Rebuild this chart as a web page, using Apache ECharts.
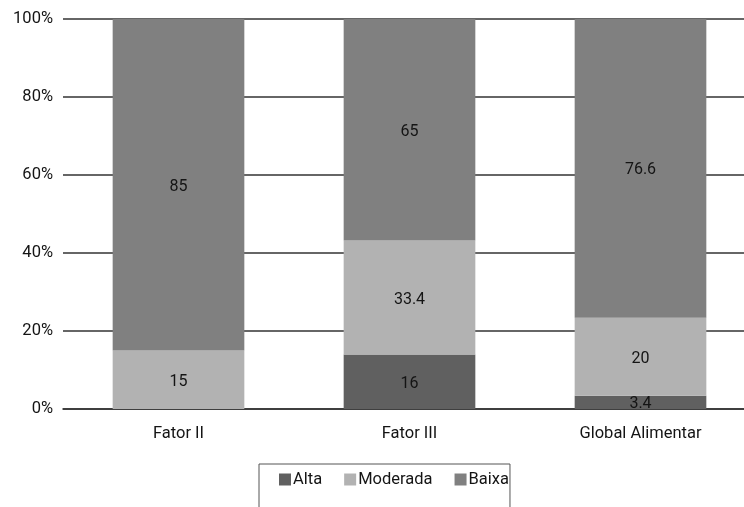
<!DOCTYPE html>
<html>
<head>
<meta charset="utf-8">
<script src="https://cdn.jsdelivr.net/npm/echarts@6/dist/echarts.min.js"></script>
<style>
html,body{margin:0;padding:0;background:#fff;overflow:hidden;width:744px;height:507px;}
#chart{width:756px;height:507px;}
</style>
</head>
<body>
<div id="chart"></div>
<script>
var categories = ['Fator II', 'Fator III', 'Global Alimentar'];
var alta = [0, 16, 3.4];
var moderada = [15, 33.4, 20];
var baixa = [85, 65, 76.6];
var yTicks = [0, 20, 40, 60, 80, 100];

var totals = categories.map(function (c, i) { return alta[i] + moderada[i] + baixa[i]; });
function pct(arr) {
  return arr.map(function (v, i) { return { value: v / totals[i] * 100, raw: v }; });
}

var font = 'Roboto, "Open Sans", sans-serif';
var labelCfg = {
  show: true,
  position: 'inside',
  color: '#141414',
  fontFamily: font,
  fontSize: 16,
  offset: [0, 2],
  formatter: function (p) { return p.data.raw ? String(p.data.raw) : ''; }
};

function series(name, arr, color) {
  return {
    name: name,
    type: 'bar',
    stack: 'total',
    barWidth: '57%',
    data: pct(arr),
    itemStyle: { color: color },
    label: labelCfg
  };
}

var chart = echarts.init(document.getElementById('chart'), null, { renderer: 'canvas' });
chart.setOption({
  animation: false,
  backgroundColor: '#fff',
  grid: { left: 63, top: 19, width: 693, height: 390, containLabel: false },
  xAxis: {
    type: 'category',
    data: categories,
    axisLine: { show: true, lineStyle: { color: '#333', width: 1.6 } },
    axisTick: { show: false },
    axisLabel: { color: '#141414', fontFamily: font, fontSize: 16.5, margin: 16 }
  },
  yAxis: {
    type: 'value',
    min: yTicks[0],
    max: yTicks[yTicks.length - 1],
    interval: 20,
    axisLine: { show: false },
    axisTick: { show: false },
    splitLine: { show: true, lineStyle: { color: '#333', width: 1.6 } },
    axisLabel: { color: '#141414', fontFamily: font, fontSize: 16.5, margin: 10, formatter: '{value}%' }
  },
  legend: {
    data: ['Alta', 'Moderada', 'Baixa'],
    left: 259,
    top: 464,
    orient: 'horizontal',
    itemWidth: 12,
    itemHeight: 12,
    itemGap: 22,
    icon: 'rect',
    borderColor: '#555',
    borderWidth: 1,
    padding: [7, 1, 40, 20],
    textStyle: { color: '#141414', fontFamily: font, fontSize: 16.5, padding: [0, 0, 0, -3] }
  },
  series: [
    series('Alta', alta, '#606060'),
    series('Moderada', moderada, '#b2b2b2'),
    series('Baixa', baixa, '#808080')
  ]
});
</script>
</body>
</html>
